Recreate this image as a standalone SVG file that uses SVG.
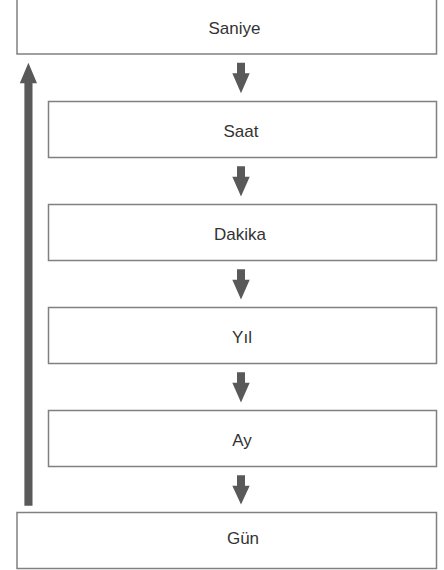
<svg xmlns="http://www.w3.org/2000/svg" width="444" height="570" viewBox="0 0 444 570">
<style>
.box{fill:#ffffff;stroke:#808080;stroke-width:1.5}
.lbl{font-family:"Liberation Sans",Arial,sans-serif;font-size:17px;fill:#333333;text-anchor:middle}
.arr{fill:#595959}
</style>
<rect width="444" height="570" fill="#ffffff"/>
<g id="connectors">
<polygon class="arr" points="237,62.7 245,62.7 245,73.3 249.7,73.3 241,93.3 232.3,73.3 237,73.3"/>
<polygon class="arr" points="237,166.2 245,166.2 245,176.8 249.7,176.8 241,196.5 232.3,176.8 237,176.8"/>
<polygon class="arr" points="237,269.2 245,269.2 245,279.8 249.7,279.8 241,299.5 232.3,279.8 237,279.8"/>
<polygon class="arr" points="237,372.2 245,372.2 245,382.8 249.7,382.8 241,402.5 232.3,382.8 237,382.8"/>
<polygon class="arr" points="237,475.2 245,475.2 245,485.8 249.7,485.8 241,504.5 232.3,485.8 237,485.8"/>
<polygon class="arr" points="24.4,505.7 32.5,505.7 32.5,83.3 37,83.3 28.4,62.7 19.8,83.3 24.4,83.3"/>
</g>
<g id="saniye"><rect class="box" x="17" y="-2" width="419.5" height="56"/><text class="lbl" x="234.5" y="34">Saniye</text></g>
<g id="saat"><rect class="box" x="48.5" y="101.5" width="388" height="56"/><text class="lbl" x="241" y="137">Saat</text></g>
<g id="dakika"><rect class="box" x="48.5" y="204.5" width="388" height="56"/><text class="lbl" x="240" y="240">Dakika</text></g>
<g id="yil"><rect class="box" x="48.5" y="307.5" width="388" height="56"/><text class="lbl" x="242" y="343">Yıl</text></g>
<g id="ay"><rect class="box" x="48.5" y="410.5" width="388" height="56"/><text class="lbl" x="242" y="446">Ay</text></g>
<g id="gun"><rect class="box" x="17" y="512.5" width="419.5" height="56"/><text class="lbl" x="243" y="544">Gün</text></g>
</svg>
